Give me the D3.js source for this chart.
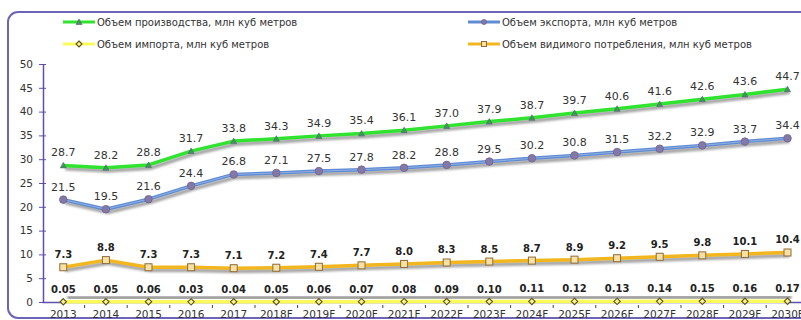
<!DOCTYPE html>
<html>
<head>
<meta charset="utf-8">
<script src="https://cdn.jsdelivr.net/npm/d3@7"></script>
<style>
  body { margin: 0; background: #fff; }
  svg { display: block; font-family: "DejaVu Sans", Verdana, sans-serif; }
</style>
</head>
<body>
<div id="wrapper"></div>
<script>
// years along the x axis
const years = ["2013", "2014", "2015", "2016", "2017", "2018F", "2019F", "2020F", "2021F",
  "2022F", "2023F", "2024F", "2025F", "2026F", "2027F", "2028F", "2029F", "2030F"]

// series values
const production = [28.7, 28.2, 28.8, 31.7, 33.8, 34.3, 34.9, 35.4, 36.1, 37.0, 37.9, 38.7, 39.7, 40.6, 41.6, 42.6, 43.6, 44.7]
const exports = [21.5, 19.5, 21.6, 24.4, 26.8, 27.1, 27.5, 27.8, 28.2, 28.8, 29.5, 30.2, 30.8, 31.5, 32.2, 32.9, 33.7, 34.4]
const imports = [0.05, 0.05, 0.06, 0.03, 0.04, 0.05, 0.06, 0.07, 0.08, 0.09, 0.10, 0.11, 0.12, 0.13, 0.14, 0.15, 0.16, 0.17]
const consumption = [7.3, 8.8, 7.3, 7.3, 7.1, 7.2, 7.4, 7.7, 8.0, 8.3, 8.5, 8.7, 8.9, 9.2, 9.5, 9.8, 10.1, 10.4]

const seriesNames = [
  "Объем производства, млн куб метров",
  "Объем экспорта, млн куб метров",
  "Объем импорта, млн куб метров",
  "Объем видимого потребления, млн куб метров"
]
const yTicks = [0, 5, 10, 15, 20, 25, 30, 35, 40, 45, 50]

const width = 801
const height = 320

const series = [
  { name: seriesNames[0], values: production, color: "#2fe32f", marker: "triangle", digits: 1, bold: false },
  { name: seriesNames[1], values: exports, color: "#5f8bd2", marker: "circle", digits: 1, bold: false },
  { name: seriesNames[2], values: imports, color: "#fafa5a", marker: "diamond", digits: 2, bold: true },
  { name: seriesNames[3], values: consumption, color: "#f2b61e", marker: "square", digits: 1, bold: true }
]

const svg = d3.select("#wrapper").append("svg").attr("width", width).attr("height", height)

const defs = svg.append("defs")
defs.append("filter").attr("id", "blur").attr("x", "-5%").attr("y", "-50%").attr("width", "110%").attr("height", "200%")
  .append("feGaussianBlur").attr("stdDeviation", 1.2)

// outer rounded frame (runs off the right edge)
svg.append("rect")
  .attr("x", 8).attr("y", 12).attr("width", 830).attr("height", 306).attr("rx", 10)
  .attr("fill", "none").attr("stroke", "#6c64b8").attr("stroke-width", 2)

// scales
const xScale = d3.scaleBand().domain(years).range([42, 42 + years.length * 42.6])
const xc = d => xScale(d) + xScale.bandwidth() / 2
const yScale = d3.scaleLinear().domain([0, 50]).range([302, 64])

const axisColor = "#5c4fae"

// y axis with ticks crossing the line
const yAxis = svg.append("g").attr("transform", "translate(43,0)")
  .call(d3.axisLeft(yScale).tickValues(yTicks).tickSize(4).tickSizeOuter(0))
yAxis.select(".domain").attr("stroke", axisColor).attr("stroke-width", 1.5)
yAxis.selectAll(".tick line").attr("stroke", axisColor).attr("x2", 3).attr("x1", -4)
yAxis.selectAll(".tick text").attr("x", -10).attr("font-size", 10.5).attr("fill", "#333")
  .attr("font-family", "DejaVu Sans, sans-serif")

// x axis
const xAxis = svg.append("g").attr("transform", "translate(0,302)")
  .call(d3.axisBottom(xScale).tickSize(0).tickSizeOuter(0))
xAxis.select(".domain").attr("stroke", axisColor).attr("stroke-width", 1.5)
xAxis.selectAll(".tick text").attr("y", 9).attr("font-size", 10.5).attr("fill", "#333")
  .attr("font-family", "DejaVu Sans, sans-serif")
// small ticks between categories
xAxis.selectAll(".sep").data(years.slice(1)).enter().append("line")
  .attr("x1", d => xScale(d)).attr("x2", d => xScale(d))
  .attr("y1", 3).attr("y2", 6).attr("stroke", "#444").attr("stroke-width", 1)

const line = d3.line().x((d, i) => xc(years[i])).y(d => yScale(d))

function drawMarker(g, type, x, y, legend) {
  if (type === "triangle") {
    g.append("path").attr("d", `M${x - 3},${y + 2.5}L${x + 3},${y + 2.5}L${x},${y - 3}Z`)
      .attr("fill", "#4f8d6c").attr("stroke", "#3b6f55").attr("stroke-width", 0.6)
  } else if (type === "circle") {
    g.append("circle").attr("cx", x).attr("cy", y).attr("r", legend ? 2.5 : 3.8)
      .attr("fill", "#8478a6").attr("stroke", "#6e6390").attr("stroke-width", 0.8)
  } else if (type === "square") {
    const s = legend ? 5 : 7
    g.append("rect").attr("x", x - s / 2).attr("y", y - s / 2).attr("width", s).attr("height", s)
      .attr("fill", "#f6e2a8").attr("stroke", "#8f6a35").attr("stroke-width", 1)
  } else {
    const s = legend ? 3 : 3.2
    g.append("path").attr("d", `M${x},${y - s}L${x + s},${y}L${x},${y + s}L${x - s},${y}Z`)
      .attr("fill", "#f8f49a").attr("stroke", "#5e5210").attr("stroke-width", 1.1)
  }
}

const plot = svg.append("g")

series.forEach(s => {
  const g = plot.append("g")
  if (s.marker === "diamond") {
    // grey shadow sits just above the yellow line
    g.append("path").datum(s.values).attr("d", line)
      .attr("transform", "translate(4,-4)").attr("fill", "none")
      .attr("stroke", "#9a9a9a").attr("stroke-width", 4).attr("filter", "url(#blur)")
  } else {
    g.append("path").datum(s.values).attr("d", line)
      .attr("transform", "translate(2,3)").attr("fill", "none")
      .attr("stroke", "#8a8a8a").attr("stroke-width", 4).attr("opacity", 0.75).attr("filter", "url(#blur)")
  }
  g.append("path").datum(s.values).attr("d", line)
    .attr("fill", "none").attr("stroke", s.color).attr("stroke-width", 3.5)
    .attr("stroke-linejoin", "round")
  if (s.marker === "circle") {
    g.append("path").datum(s.values).attr("d", line)
      .attr("fill", "none").attr("stroke", "#8fb0e4").attr("stroke-width", 1)
  }
  s.values.forEach((v, i) => drawMarker(g, s.marker, xc(years[i]), yScale(v), false))
  g.selectAll("text.val").data(s.values).enter().append("text")
    .attr("class", "val")
    .attr("x", (d, i) => xc(years[i]))
    .attr("y", d => yScale(d) - 9)
    .attr("text-anchor", "middle")
    .attr("font-size", s.bold ? 10 : 11)
    .attr("font-weight", s.bold ? "bold" : "normal")
    .attr("fill", s.bold ? "#222" : "#333")
    .text(d => d.toFixed(s.digits))
})

// legend, two rows by two columns
const legendPos = [[63, 22], [468, 22], [63, 44], [468, 44]]
series.forEach((s, i) => {
  const [lx, ly] = legendPos[i]
  const g = svg.append("g")
  g.append("line").attr("x1", lx).attr("x2", lx + 32).attr("y1", ly).attr("y2", ly)
    .attr("stroke", s.color).attr("stroke-width", 3)
  drawMarker(g, s.marker, lx + 16, ly, true)
  g.append("text").attr("x", lx + 34).attr("y", ly + 3.5)
    .attr("font-size", 10).attr("fill", "#333").text(s.name)
})
</script>
</body>
</html>
